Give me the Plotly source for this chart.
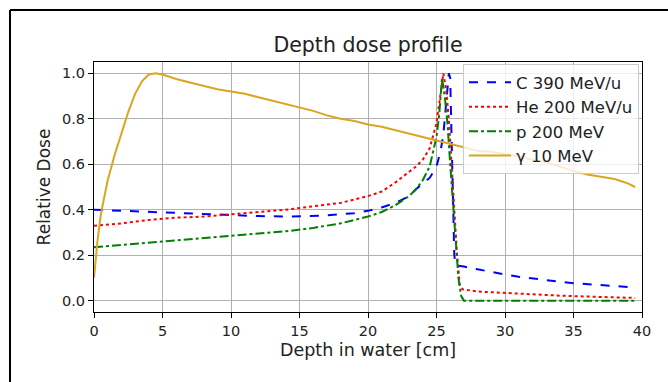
import plotly.graph_objects as go

# ---- data ----
c_x = [0, 2, 4, 6, 8, 10, 12, 14, 16, 17, 18, 19, 20, 21, 22, 22.5, 23, 23.5, 24, 24.5, 25, 25.3, 25.5, 25.7, 25.9,
       26.0, 26.1, 26.2, 26.3, 26.4, 27, 28, 29, 30, 31, 32, 33, 34, 35, 36, 37, 38, 39, 39.5]
c_y = [0.40, 0.395, 0.39, 0.385, 0.38, 0.375, 0.372, 0.37, 0.372, 0.375, 0.38, 0.385, 0.395, 0.41, 0.43, 0.445, 0.46,
       0.49, 0.515, 0.54, 0.59, 0.66, 0.73, 0.85, 1.0,
       0.98, 0.70, 0.40, 0.20, 0.155, 0.15, 0.138, 0.125, 0.115, 0.105, 0.097, 0.09, 0.083, 0.077, 0.072, 0.068,
       0.064, 0.06, 0.058]

he_x = [0, 2, 4, 6, 8, 10, 12, 14, 16, 18, 20, 21, 22, 23, 23.5, 24, 24.5, 25, 25.3, 25.5, 25.7, 25.9, 26.1, 26.3,
        26.5, 26.7, 26.9, 28, 30, 32, 34, 36, 38, 39.5]
he_y = [0.33, 0.34, 0.355, 0.365, 0.37, 0.38, 0.39, 0.40, 0.415, 0.43, 0.46, 0.48, 0.52, 0.565, 0.59, 0.62, 0.67,
        0.78, 0.90, 1.0, 0.93, 0.80, 0.60, 0.40, 0.20, 0.07, 0.05, 0.04, 0.033, 0.027, 0.022, 0.018, 0.014, 0.012]

p_x = [0, 2, 4, 6, 8, 10, 12, 14, 16, 18, 20, 21, 22, 23, 23.5, 24, 24.5, 25, 25.2, 25.4, 25.6, 25.8, 26.0, 26.2,
       26.4, 26.6, 26.8, 27.0, 30, 35, 39.5]
p_y = [0.235, 0.245, 0.255, 0.265, 0.275, 0.285, 0.295, 0.305, 0.32, 0.34, 0.37, 0.39, 0.42, 0.46, 0.49, 0.53, 0.59,
       0.72, 0.82, 0.98, 0.90, 0.78, 0.60, 0.42, 0.25, 0.10, 0.02, 0.0, 0.0, 0.0, 0.0]

g_x = [0, 0.25, 0.5, 1.0, 1.5, 2.0, 2.5, 3.0, 3.5, 4.0, 4.5, 5, 6, 7, 8, 9, 10, 11, 12, 13, 14, 15, 16, 17, 18, 19,
       20, 21, 22, 23, 24, 25, 26, 27, 28, 29, 30, 31, 32, 33, 34, 35, 36, 37, 38, 38.5, 39, 39.5]
g_y = [0.10, 0.26, 0.38, 0.53, 0.64, 0.74, 0.83, 0.91, 0.965, 0.995, 1.0, 0.995, 0.975, 0.96, 0.945, 0.93, 0.92,
       0.91, 0.895, 0.88, 0.865, 0.85, 0.835, 0.815, 0.80, 0.79, 0.775, 0.765, 0.75, 0.735, 0.72, 0.705, 0.69, 0.675,
       0.66, 0.655, 0.645, 0.635, 0.62, 0.61, 0.59, 0.57, 0.555, 0.545, 0.535, 0.525, 0.515, 0.50]

x_ticks = [0, 5, 10, 15, 20, 25, 30, 35, 40]
y_ticks = [0.0, 0.2, 0.4, 0.6, 0.8, 1.0]

FONT = "DejaVu Sans"

fig = go.Figure()
fig.add_trace(go.Scatter(x=c_x, y=c_y, mode="lines", name="C 390 MeV/u",
                         line=dict(color="#0000ff", width=2, dash="dash")))
fig.add_trace(go.Scatter(x=he_x, y=he_y, mode="lines", name="He 200 MeV/u",
                         line=dict(color="#ff0000", width=2, dash="dot")))
fig.add_trace(go.Scatter(x=p_x, y=p_y, mode="lines", name="p 200 MeV",
                         line=dict(color="#008000", width=2, dash="dashdot")))
fig.add_trace(go.Scatter(x=g_x, y=g_y, mode="lines", name="γ 10 MeV",
                         line=dict(color="#daa520", width=2)))

W, H = 668, 382
L, R, T, B = 94, 642, 62, 312
pw, ph = R - L, B - T

def px(x):
    return (x - L) / pw

def py(y):
    return (B - y) / ph

axis_common = dict(showline=True, mirror=True, linecolor="black", linewidth=1.2,
                   ticks="outside", ticklen=5, tickcolor="black", tickwidth=1.2,
                   showgrid=True, gridcolor="#b0b0b0", gridwidth=1, zeroline=False,
                   tickfont=dict(family=FONT, size=14.5, color="#222"))

fig.update_layout(
    width=W, height=H,
    margin=dict(l=L, r=W - R, t=T, b=H - B, pad=0),
    paper_bgcolor="white", plot_bgcolor="white",
    font=dict(family=FONT, color="#222"),
    title=dict(text="Depth dose profile", x=0.5, xref="paper", y=1 - 45 / H, yref="container",
               xanchor="center", yanchor="middle", font=dict(family=FONT, size=20.5, color="#222")),
    xaxis=dict(range=[0, 40], tickvals=x_ticks, ticktext=[str(v) for v in x_ticks],
               title=dict(text="Depth in water [cm]", font=dict(family=FONT, size=17.5, color="#222"), standoff=6),
               **axis_common),
    yaxis=dict(range=[-0.05, 1.05], tickvals=y_ticks, ticktext=[f"{v:.1f}" for v in y_ticks],
               title=dict(text="Relative Dose", font=dict(family=FONT, size=17, color="#222"), standoff=6),
               **axis_common),
    legend=dict(x=px(463), y=py(64), xanchor="left", yanchor="top",
                bgcolor="rgba(255,255,255,0.8)", bordercolor="#cccccc", borderwidth=1,
                font=dict(family=FONT, size=16.5, color="#222"), itemwidth=42,
                tracegroupgap=0),
    showlegend=True,
)

# outer figure frame (left and top edges)
fig.add_shape(type="line", xref="paper", yref="paper", x0=px(10), y0=py(H + 5), x1=px(10), y1=py(10),
              line=dict(color="black", width=2))
fig.add_shape(type="line", xref="paper", yref="paper", x0=px(10), y0=py(10), x1=px(W + 5), y1=py(10),
              line=dict(color="black", width=2))

fig.write_html("out.html")
